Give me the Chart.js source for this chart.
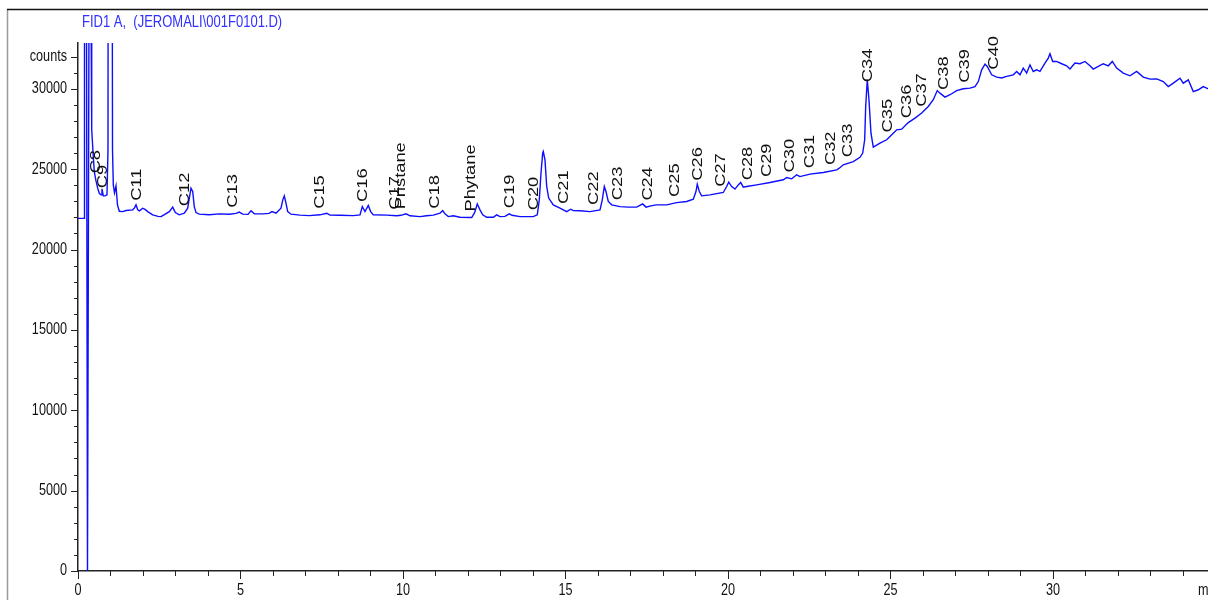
<!DOCTYPE html>
<html>
<head>
<meta charset="utf-8">
<script src="https://cdn.jsdelivr.net/npm/chart.js@4/dist/chart.umd.min.js"></script>
<style>
  html, body { margin: 0; padding: 0; background: #fff; }
  canvas { display: block; }
</style>
</head>
<body>
<canvas id="chrom" width="1208" height="600"></canvas>
<script>
// FID1 A signal: retention time (min) and detector response (counts)
const times = [
  0, 0.185, 0.2, 0.231, 0.292, 0.385, 0.406, 0.422, 0.471, 0.502,
  0.554, 0.606, 0.655, 0.708, 0.738, 0.778, 0.831, 0.892, 0.923, 0.938,
  1.031, 1.062, 1.086, 1.123, 1.169, 1.215, 1.271, 1.375, 1.477, 1.683,
  1.738, 1.785, 1.837, 1.892, 1.991, 2.062, 2.145, 2.298, 2.462, 2.554,
  2.646, 2.809, 2.914, 2.994, 3.117, 3.271, 3.375, 3.425, 3.477, 3.529,
  3.578, 3.631, 3.732, 4.040, 4.348, 4.655, 4.862, 4.963, 5.068, 5.231,
  5.323, 5.425, 5.683, 5.877, 5.969, 6.092, 6.246, 6.302, 6.348, 6.400,
  6.452, 6.554, 6.831, 7.117, 7.446, 7.652, 7.754, 8.062, 8.471, 8.677,
  8.748, 8.831, 8.932, 9.006, 9.086, 9.498, 9.806, 9.938, 10.092, 10.215,
  10.523, 10.729, 10.932, 11.138, 11.222, 11.292, 11.394, 11.548, 11.754, 12.114,
  12.2, 12.246, 12.286, 12.369, 12.452, 12.575, 12.778, 12.883, 12.985, 13.138,
  13.271, 13.354, 13.600, 14.009, 14.132, 14.194, 14.246, 14.298, 14.317, 14.369,
  14.422, 14.483, 14.625, 14.831, 15.037, 15.160, 15.240, 15.446, 15.754, 16.062,
  16.132, 16.194, 16.246, 16.317, 16.422, 16.677, 16.932, 17.191, 17.375, 17.477,
  17.631, 17.785, 18.114, 18.422, 18.729, 18.932, 19.015, 19.055, 19.117, 19.191,
  19.446, 19.855, 19.960, 20.022, 20.114, 20.215, 20.317, 20.391, 20.471, 20.575,
  20.883, 21.292, 21.702, 21.806, 21.960, 22.114, 22.215, 22.523, 22.932, 23.345,
  23.425, 23.548, 23.855, 24.062, 24.145, 24.206, 24.237, 24.286, 24.338, 24.400,
  24.471, 24.677, 24.883, 25.086, 25.191, 25.345, 25.548, 25.754, 25.960, 26.163,
  26.317, 26.440, 26.523, 26.677, 26.831, 27.037, 27.240, 27.446, 27.600, 27.702,
  27.806, 27.908, 27.978, 28.114, 28.268, 28.422, 28.575, 28.778, 28.883, 28.985,
  29.086, 29.191, 29.292, 29.394, 29.498, 29.600, 29.754, 29.855, 29.908, 29.991,
  30.114, 30.268, 30.422, 30.523, 30.677, 30.831, 30.985, 31.138, 31.240, 31.394,
  31.548, 31.702, 31.825, 31.960, 32.163, 32.369, 32.575, 32.778, 32.985, 33.191,
  33.394, 33.548, 33.702, 33.908, 34.009, 34.163, 34.317, 34.471, 34.625, 34.729,
  34.77
];
const counts = [
  21940, 21940, 70000, 70000, 0, 70000, 33050, 27450, 25770, 24830,
  24270, 23820, 23500, 23400, 23780, 23340, 23340, 23400, 26200, 70000,
  70000, 26200, 24020, 23530, 23960, 22780, 22380, 22360, 22430, 22470,
  22590, 22780, 22470, 22410, 22570, 22500, 22360, 22160, 22060, 22050,
  22160, 22360, 22640, 22300, 22160, 22260, 22570, 23200, 23820, 23610,
  22670, 22300, 22200, 22160, 22220, 22200, 22250, 22330, 22200, 22190,
  22410, 22220, 22220, 22250, 22360, 22260, 22570, 23090, 23340, 22890,
  22360, 22200, 22140, 22110, 22160, 22260, 22140, 22130, 22110, 22160,
  22670, 22360, 22740, 22360, 22160, 22140, 22100, 22130, 22220, 22100,
  22050, 22100, 22140, 22260, 22420, 22220, 22050, 22100, 22010, 21990,
  22280, 22570, 22840, 22470, 22160, 22010, 22010, 22160, 22050, 22060,
  22220, 22130, 22050, 22050, 22160, 23090, 24750, 26000, 26100, 25580,
  23920, 23200, 22780, 22570, 22360, 22510, 22420, 22410, 22360, 22470,
  23090, 23920, 23610, 22990, 22780, 22670, 22640, 22640, 22840, 22640,
  22720, 22780, 22780, 22920, 22990, 23130, 23610, 24070, 23610, 23340,
  23400, 23550, 23920, 24190, 23920, 23760, 24020, 24170, 23880, 23920,
  24020, 24170, 24340, 24480, 24400, 24650, 24540, 24690, 24790, 24960,
  25060, 25270, 25470, 25740, 26000, 26830, 28900, 30560, 29320, 27240,
  26370, 26620, 26830, 27240, 27450, 27490, 27900, 28180, 28490, 28900,
  29320, 29890, 29730, 29480, 29630, 29890, 30000, 30040, 30140, 30450,
  31180, 31540, 31390, 30870, 30730, 30670, 30770, 30870, 31080, 30870,
  31290, 30980, 31490, 31080, 31180, 31080, 31600, 31910, 32180, 31700,
  31700, 31560, 31430, 31230, 31600, 31560, 31700, 31430, 31230, 31390,
  31560, 31430, 31700, 31290, 30980, 30810, 31080, 30730, 30600, 30620,
  30450, 30140, 30350, 30660, 30350, 30560, 29830, 29940, 30140, 30040,
  30000
];

// Identified compounds and their retention times (min)
const peakNames = [
  'C8', 'C9', 'C11', 'C12', 'C13', 'C15', 'C16', 'C17', 'Pristane', 'C18',
  'Phytane', 'C19', 'C20', 'C21', 'C22', 'C23', 'C24', 'C25', 'C26', 'C27',
  'C28', 'C29', 'C30', 'C31', 'C32', 'C33', 'C34', 'C35', 'C36', 'C37',
  'C38', 'C39', 'C40'
];
const peakTimes = [
  0.545, 0.769, 1.806, 3.292, 4.769, 7.446, 8.769, 9.754, 9.923, 10.985,
  12.092, 13.292, 14.031, 14.938, 15.877, 16.615, 17.538, 18.378, 19.077, 19.794,
  20.615, 21.2, 21.917, 22.508, 23.154, 23.698, 24.308, 24.923, 25.498, 25.969,
  26.631, 27.277, 28.169
];

// Axis ticks: every minute / every 1000 counts, labelled every 5
const xTickValues = [];
for (let m = 0; m <= 34; m++) xTickValues.push(m);
const yTickValues = [];
for (let c = 0; c <= 32000; c += 1000) yTickValues.push(c);

const title = 'FID1 A,  (JEROMALI\\001F0101.D)';
const yUnit = 'counts';
const xUnit = 'min';
const xMax = 34.77;
const yMax = 32850;

const FONT = "'Liberation Sans', Arial, sans-serif";
const TICK_SQUEEZE = 0.79;   // condensed report lettering
const TITLE_SQUEEZE = 0.765;
const PEAK_STRETCH = 1.22;
const TRACE = '#0d0dff';

function countsAt(t) {
  for (let i = 1; i < times.length; i++) {
    if (times[i] >= t) {
      const f = (t - times[i - 1]) / (times[i] - times[i - 1]);
      return counts[i - 1] + f * (counts[i] - counts[i - 1]);
    }
  }
  return counts[counts.length - 1];
}

function narrowText(ctx, text, x, y, align, baseline, size, squeeze) {
  ctx.save();
  ctx.font = size + 'px ' + FONT;
  ctx.textAlign = align;
  ctx.textBaseline = baseline;
  ctx.translate(x, y);
  ctx.scale(squeeze, 1);
  ctx.fillText(text, 0, 0);
  ctx.restore();
}

// White page, report frame and signal title
const framePlugin = {
  id: 'frame',
  beforeDraw(chart) {
    const ctx = chart.ctx;
    ctx.save();
    ctx.fillStyle = '#fff';
    ctx.fillRect(0, 0, chart.width, chart.height);
    ctx.strokeStyle = '#9a9a9a';
    ctx.lineWidth = 1.5;
    ctx.beginPath();
    ctx.moveTo(7.5, 9);
    ctx.lineTo(7.5, chart.height);
    ctx.stroke();
    ctx.strokeStyle = '#111';
    ctx.lineWidth = 1.5;
    ctx.beginPath();
    ctx.moveTo(7, 9.5);
    ctx.lineTo(chart.width, 9.5);
    ctx.stroke();
    ctx.fillStyle = '#3030ff';
    narrowText(ctx, title, 82, 14, 'left', 'top', 17, TITLE_SQUEEZE);
    ctx.restore();
  }
};

// Major / minor tick marks and condensed tick labels on both axes
const axisPlugin = {
  id: 'axisMarks',
  afterDraw(chart) {
    const ctx = chart.ctx;
    const xs = chart.scales.x, ys = chart.scales.y;
    ctx.save();
    ctx.strokeStyle = '#222';
    ctx.lineWidth = 1;
    ctx.beginPath();
    xs.ticks.forEach(t => {
      const px = Math.round(xs.getPixelForValue(t.value)) + 0.5;
      const len = t.label !== '' ? 8 : 5;
      ctx.moveTo(px, xs.top);
      ctx.lineTo(px, xs.top + len);
    });
    ys.ticks.forEach(t => {
      const py = Math.round(ys.getPixelForValue(t.value)) + 0.5;
      const len = t.label !== '' ? 7 : 4;
      ctx.moveTo(ys.right - len, py);
      ctx.lineTo(ys.right, py);
    });
    ctx.stroke();
    ctx.fillStyle = '#111';
    xs.ticks.forEach(t => {
      if (t.label === '') return;
      narrowText(ctx, String(t.label), xs.getPixelForValue(t.value), xs.top + 12, 'center', 'top', 16, TICK_SQUEEZE);
    });
    ys.ticks.forEach(t => {
      if (t.label === '') return;
      narrowText(ctx, String(t.label), ys.right - 11, ys.getPixelForValue(t.value), 'right', 'middle', 16, TICK_SQUEEZE);
    });
    narrowText(ctx, xUnit, xs.right - 10, xs.top + 12, 'left', 'top', 16, TICK_SQUEEZE);
    ctx.restore();
  }
};

// Vertical compound names just above the trace
const peakLabelPlugin = {
  id: 'peakLabels',
  afterDatasetsDraw(chart) {
    const ctx = chart.ctx;
    const xs = chart.scales.x, ys = chart.scales.y;
    ctx.save();
    ctx.fillStyle = '#111';
    ctx.font = '15px ' + FONT;
    ctx.textAlign = 'left';
    ctx.textBaseline = 'middle';
    peakNames.forEach((name, i) => {
      const t = peakTimes[i];
      const px = xs.getPixelForValue(t);
      const py = ys.getPixelForValue(countsAt(t)) - 6;
      ctx.save();
      ctx.translate(px, py);
      ctx.rotate(-Math.PI / 2);
      ctx.scale(PEAK_STRETCH, 1);
      ctx.fillText(name, 0, 0);
      ctx.restore();
    });
    ctx.restore();
  }
};

const points = times.map((t, i) => ({ x: t, y: counts[i] }));

new Chart(document.getElementById('chrom'), {
  type: 'line',
  data: {
    datasets: [{
      data: points,
      borderColor: TRACE,
      borderWidth: 1.4,
      pointRadius: 0,
      tension: 0,
      fill: false
    }]
  },
  options: {
    responsive: false,
    animation: false,
    devicePixelRatio: 1,
    layout: { padding: { top: 43, left: 0, right: 0, bottom: 0 } },
    plugins: { legend: { display: false }, tooltip: { enabled: false }, title: { display: false } },
    scales: {
      x: {
        type: 'linear',
        min: 0,
        max: xMax,
        afterBuildTicks: s => { s.ticks = xTickValues.map(v => ({ value: v })); },
        afterFit: s => { s.height = 29; },
        grid: { display: false, drawTicks: false },
        border: { display: true, color: '#222', width: 1.5 },
        ticks: {
          display: false,
          autoSkip: false,
          callback: v => (v % 5 === 0 ? String(v) : '')
        }
      },
      y: {
        type: 'linear',
        min: 0,
        max: yMax,
        afterBuildTicks: s => { s.ticks = yTickValues.map(v => ({ value: v })); },
        afterFit: s => { s.width = 78; },
        grid: { display: false, drawTicks: false },
        border: { display: true, color: '#222', width: 1.5 },
        ticks: {
          display: false,
          autoSkip: false,
          callback: v => (v % 5000 === 0 ? String(v) : (v === 32000 ? yUnit : ''))
        }
      }
    }
  },
  plugins: [framePlugin, axisPlugin, peakLabelPlugin]
});
</script>
</body>
</html>
